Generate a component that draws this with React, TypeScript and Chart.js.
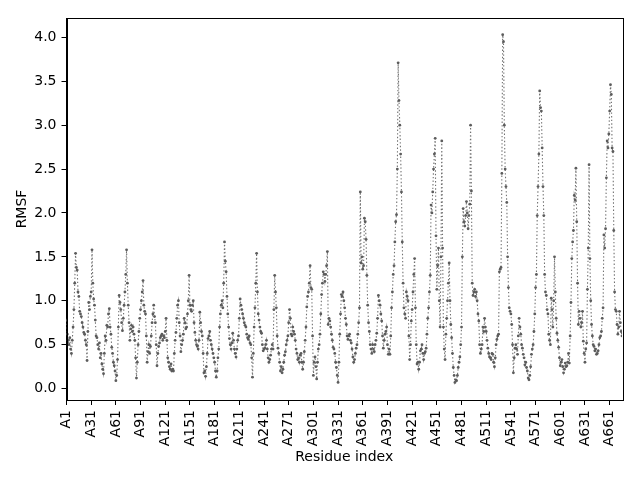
import { useEffect, useRef } from "react";
import { Chart, registerables } from "chart.js";

Chart.register(...registerables);

// RMSF per residue (index 0 = A1)
const rmsf001to100 = [
  0.78, 0.62, 0.55, 0.5, 0.58, 0.45, 0.4, 0.55, 0.7, 0.9,
  1.2, 1.54, 1.38, 1.35, 1.1, 1.05, 0.88, 0.85, 0.82, 0.75,
  0.7, 0.64, 0.62, 0.55, 0.5, 0.32, 0.65, 0.98, 0.9, 1.05,
  1.1, 1.58, 1.2, 1.02, 0.95, 0.78, 0.6, 0.58, 0.5, 0.45,
  0.52, 0.35, 0.4, 0.28, 0.22, 0.17, 0.4, 0.6, 0.55, 0.72,
  0.7, 0.85, 0.91, 0.7, 0.62, 0.47, 0.4, 0.3, 0.26, 0.2,
  0.09, 0.15, 0.33, 0.7, 1.06, 0.98, 0.9, 0.75, 0.66, 0.8,
  0.95, 1.1, 1.3, 1.58, 1.2, 0.95, 0.75, 0.55, 0.68, 0.72,
  0.65, 0.7, 0.62, 0.55, 0.35, 0.12, 0.3, 0.5, 0.65, 0.8,
  0.9, 1.0, 1.1, 1.23, 0.95, 0.88, 0.85, 0.6, 0.3, 0.42,
];
const rmsf101to200 = [
  0.5, 0.4, 0.48, 0.6, 0.75, 0.85, 0.95, 0.82, 0.75, 0.5,
  0.26, 0.4, 0.48, 0.52, 0.58, 0.6, 0.62, 0.55, 0.6, 0.58,
  0.65, 0.8, 0.55, 0.35, 0.3, 0.25, 0.22, 0.28, 0.2, 0.22,
  0.2, 0.4, 0.55, 0.64, 0.8, 0.95, 1.0, 0.75, 0.6, 0.42,
  0.5, 0.55, 0.62, 0.8, 0.75, 0.68, 0.7, 0.85, 1.0, 1.29,
  0.95, 0.9, 0.88, 0.95, 1.0, 0.75, 0.64, 0.55, 0.5, 0.48,
  0.45, 0.55, 0.87, 0.75, 0.65, 0.6, 0.4, 0.18, 0.2, 0.14,
  0.25, 0.4, 0.57, 0.6, 0.65, 0.55, 0.5, 0.45, 0.4, 0.35,
  0.3, 0.2, 0.13, 0.2, 0.35, 0.45, 0.7, 0.85, 0.95, 1.0,
  0.92, 1.2, 1.67, 1.45, 1.33, 1.05, 0.85, 0.7, 0.57, 0.5,
];
const rmsf201to300 = [
  0.45, 0.52, 0.63, 0.55, 0.45, 0.4, 0.36, 0.45, 0.55, 0.6,
  0.8, 1.02, 0.95, 0.9, 0.85, 0.8, 0.75, 0.72, 0.7, 0.62,
  0.58, 0.56, 0.6, 0.52, 0.5, 0.35, 0.13, 0.4, 0.7, 0.92,
  1.2, 1.54, 1.1, 0.85, 0.78, 0.7, 0.65, 0.63, 0.5, 0.43,
  0.45, 0.46, 0.5, 0.55, 0.45, 0.35, 0.3, 0.33, 0.38, 0.45,
  0.5, 0.45, 0.9, 1.29, 1.1, 0.92, 0.6, 0.46, 0.4, 0.3,
  0.2, 0.25, 0.18, 0.22, 0.3, 0.38, 0.42, 0.5, 0.55, 0.6,
  0.75, 0.9, 0.8, 0.62, 0.6, 0.7, 0.65, 0.62, 0.55, 0.45,
  0.4, 0.33, 0.35, 0.3, 0.38, 0.4, 0.3, 0.22, 0.3, 0.42,
  0.55, 0.7, 0.93, 1.05, 1.1, 1.2, 1.4, 1.15, 1.13, 0.6,
];
const rmsf301to400 = [
  0.15, 0.3, 0.36, 0.25, 0.11, 0.3, 0.45, 0.5, 0.62, 0.85,
  1.07, 1.2, 1.33, 1.3, 1.22, 1.3, 1.4, 1.56, 0.73, 0.8,
  0.77, 0.7, 0.62, 0.55, 0.47, 0.45, 0.4, 0.3, 0.24, 0.15,
  0.07, 0.3, 0.62, 0.85, 1.07, 1.05, 1.1, 1.0, 0.92, 0.8,
  0.73, 0.6, 0.56, 0.6, 0.62, 0.55, 0.52, 0.45, 0.36, 0.3,
  0.33, 0.4, 0.46, 0.5, 0.62, 0.75, 0.92, 2.24, 1.43, 1.5,
  1.36, 1.4, 1.94, 1.9, 1.7, 1.29, 0.95, 0.75, 0.65, 0.5,
  0.45, 0.4, 0.5, 0.45, 0.42, 0.5, 0.55, 0.63, 0.8, 1.06,
  1.0, 0.95, 0.85, 0.77, 0.6, 0.46, 0.55, 0.62, 0.65, 0.7,
  0.5, 0.39, 0.45, 0.39, 0.6, 0.92, 1.1, 1.3, 1.4, 1.67,
];
const rmsf401to500 = [
  1.9, 1.98, 2.5, 3.71, 3.28, 3.0, 2.67, 2.24, 1.67, 1.2,
  0.92, 0.85, 0.8, 1.1, 1.05, 1.0, 0.6, 0.33, 0.5, 0.77,
  0.9, 1.1, 1.3, 1.48, 0.92, 0.5, 0.28, 0.3, 0.22, 0.3,
  0.43, 0.45, 0.5, 0.4, 0.33, 0.4, 0.42, 0.46, 0.62, 0.8,
  0.92, 1.1, 1.29, 2.09, 2.0, 2.24, 2.5, 2.67, 2.85, 1.74,
  1.13, 1.4, 1.6, 1.0, 0.7, 1.5, 2.82, 1.6, 0.7, 0.45,
  0.33, 0.62, 0.8, 1.0, 1.2, 1.43, 1.0, 0.73, 0.58, 0.4,
  0.24, 0.15, 0.07, 0.1, 0.09, 0.15, 0.24, 0.3, 0.36, 0.5,
  0.7, 1.5, 2.05, 1.9, 1.85, 1.97, 2.13, 2.0, 1.82, 1.97,
  2.1, 3.0, 2.25, 1.2, 1.06, 1.1, 1.13, 1.05, 1.1, 1.0,
];
const rmsf501to600 = [
  0.85, 0.77, 0.5, 0.4, 0.45, 0.5, 0.7, 0.65, 0.8, 0.7,
  0.65, 0.55, 0.46, 0.4, 0.36, 0.35, 0.33, 0.4, 0.39, 0.3,
  0.25, 0.35, 0.5, 0.56, 0.6, 0.62, 1.33, 1.36, 1.38, 2.45,
  4.03, 3.95, 3.0, 2.5, 2.3, 2.12, 1.5, 1.15, 0.92, 0.88,
  0.85, 0.73, 0.5, 0.18, 0.35, 0.46, 0.5, 0.45, 0.39, 0.6,
  0.8, 0.7, 0.62, 0.5, 0.46, 0.39, 0.35, 0.27, 0.3, 0.24,
  0.2, 0.12, 0.1, 0.15, 0.25, 0.39, 0.45, 0.5, 0.65, 0.85,
  1.15, 1.3, 1.97, 2.3, 2.67, 3.39, 3.2, 3.16, 2.74, 2.3,
  1.97, 1.3, 1.1, 1.06, 0.9, 0.85, 0.62, 0.55, 0.5, 1.03,
  0.9, 0.7, 1.0, 1.5, 1.1, 0.8, 0.63, 0.55, 0.47, 0.35,
];
const rmsf601to676 = [
  0.26, 0.3, 0.33, 0.25, 0.18, 0.22, 0.29, 0.25, 0.26, 0.3,
  0.4, 0.29, 0.6, 0.98, 1.48, 1.67, 1.8, 2.2, 2.15, 2.51,
  1.9, 1.2, 0.73, 0.88, 0.8, 0.7, 0.75, 0.88, 0.54, 0.4,
  0.3, 0.45, 0.52, 1.13, 1.6, 2.55, 1.48, 1.0, 0.73, 0.6,
  0.5, 0.48, 0.43, 0.45, 0.39, 0.4, 0.43, 0.5, 0.58, 0.6,
  0.65, 0.8, 0.92, 1.75, 1.6, 1.82, 2.4, 2.82, 2.74, 2.9,
  3.16, 3.46, 3.35, 2.74, 2.7, 1.8, 1.1, 0.9, 0.88, 0.73,
  0.62, 0.7, 0.88, 0.75, 0.65, 0.6,
];

const xTickLabels = [
  "A1", "A31", "A61", "A91", "A121", "A151", "A181", "A211", "A241", "A271", "A301", "A331",
  "A361", "A391", "A421", "A451", "A481", "A511", "A541", "A571", "A601", "A631", "A661",
];
const yTickLabels = ["0.0", "0.5", "1.0", "1.5", "2.0", "2.5", "3.0", "3.5", "4.0"];

const FONT = "'DejaVu Sans', sans-serif";

export default function App() {
  const ref = useRef<HTMLCanvasElement>(null);

  useEffect(() => {
    document.body.style.margin = "0";
    document.body.style.overflow = "hidden";
    const values = [
      ...rmsf001to100,
      ...rmsf101to200,
      ...rmsf201to300,
      ...rmsf301to400,
      ...rmsf401to500,
      ...rmsf501to600,
      ...rmsf601to676,
    ];
    const points = values.map((v, i) => ({ x: i, y: v }));
    const xTickValues = xTickLabels.map((l) => parseInt(l.slice(1), 10) - 1);
    const yTickValues = yTickLabels.map((l) => parseFloat(l));

    const frame = {
      id: "frame",
      afterDraw(chart: any) {
        const { ctx, chartArea } = chart;
        ctx.save();
        ctx.strokeStyle = "#000";
        ctx.lineWidth = 1;
        ctx.strokeRect(
          Math.round(chartArea.left) + 0.5,
          Math.round(chartArea.top) + 0.5,
          Math.round(chartArea.right - chartArea.left),
          Math.round(chartArea.bottom - chartArea.top)
        );
        ctx.restore();
      },
    };

    const chart = new Chart(ref.current!, {
      type: "scatter",
      data: {
        datasets: [
          {
            data: points,
            showLine: true,
            borderColor: "#707070",
            borderWidth: 1.1,
            borderDash: [1.4, 2.2],
            pointRadius: 1.4,
            pointHoverRadius: 1.4,
            pointBackgroundColor: "#5c5c5c",
            pointBorderWidth: 0,
          },
        ],
      },
      options: {
        animation: false,
        responsive: false,
        layout: { padding: { top: 18, right: 18, left: 0, bottom: 0 } },
        plugins: { legend: { display: false }, tooltip: { enabled: false } },
        scales: {
          x: {
            type: "linear",
            min: 0,
            max: values.length - 1,
            afterBuildTicks: (s: any) => {
              s.ticks = xTickValues.map((v) => ({ value: v }));
            },
            afterFit: (s: any) => {
              s.height = 80;
            },
            ticks: {
              autoSkip: false,
              minRotation: 90,
              maxRotation: 90,
              padding: 5,
              color: "#000",
              font: { family: FONT, size: 14 },
              callback: (v: any) => {
                const i = xTickValues.indexOf(Number(v));
                return i >= 0 ? xTickLabels[i] : "";
              },
            },
            grid: {
              display: true,
              drawOnChartArea: false,
              drawTicks: true,
              tickLength: 5,
              color: "#000",
              lineWidth: 1,
            },
            border: { display: true, color: "#000", width: 1 },
            title: {
              display: true,
              text: "Residue index",
              color: "#000",
              font: { family: FONT, size: 14 },
              padding: { top: 0, bottom: 14 },
            },
          },
          y: {
            type: "linear",
            min: -0.13,
            max: 4.22,
            afterBuildTicks: (s: any) => {
              s.ticks = yTickValues.map((v) => ({ value: v }));
            },
            afterFit: (s: any) => {
              s.width = 66.5;
            },
            ticks: {
              padding: 5,
              color: "#000",
              font: { family: FONT, size: 14 },
              callback: (v: any) => {
                const i = yTickValues.indexOf(Number(v));
                return i >= 0 ? yTickLabels[i] : "";
              },
            },
            grid: {
              display: true,
              drawOnChartArea: false,
              drawTicks: true,
              tickLength: 5,
              color: "#000",
              lineWidth: 1,
            },
            border: { display: true, color: "#000", width: 1 },
            title: {
              display: true,
              text: "RMSF",
              color: "#000",
              font: { family: FONT, size: 14 },
              padding: { top: 14, bottom: 0 },
            },
          },
        },
      },
      plugins: [frame],
    });

    return () => chart.destroy();
  }, []);

  return <canvas ref={ref} width={640} height={480} style={{ display: "block" }} />;
}
